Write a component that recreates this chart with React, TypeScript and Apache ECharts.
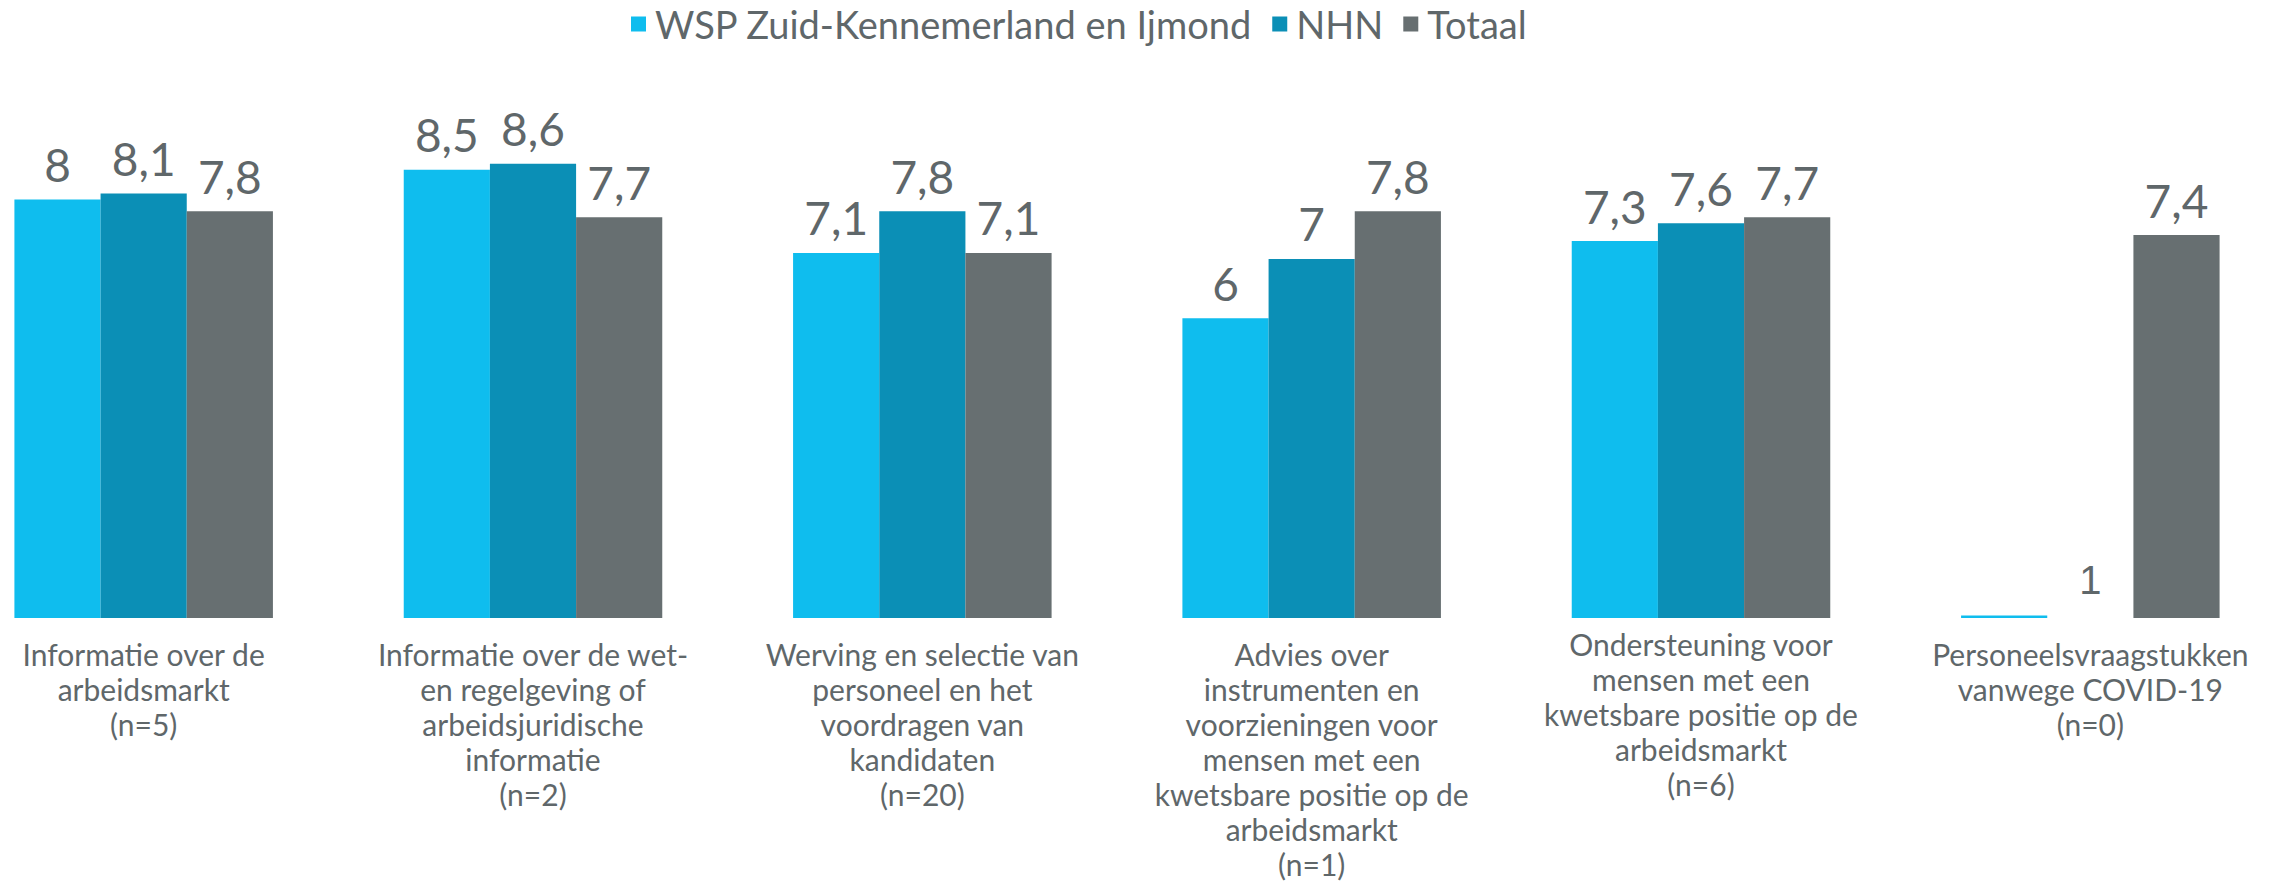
import React, { useEffect, useRef } from "react";
import * as echarts from "echarts";

const categories = [
  "Informatie over de\narbeidsmarkt\n(n=5)",
  "Informatie over de wet-\nen regelgeving of\narbeidsjuridische\ninformatie\n(n=2)",
  "Werving en selectie van\npersoneel en het\nvoordragen van\nkandidaten\n(n=20)",
  "Advies over\ninstrumenten en\nvoorzieningen voor\nmensen met een\nkwetsbare positie op de\narbeidsmarkt\n(n=1)",
  "Ondersteuning voor\nmensen met een\nkwetsbare positie op de\narbeidsmarkt\n(n=6)",
  "Personeelsvraagstukken\nvanwege COVID-19\n(n=0)",
];
const seriesNames = ["WSP Zuid-Kennemerland en Ijmond", "NHN", "Totaal"];
const wsp = [8, 8.5, 7.1, 6, 7.3, 1];
const nhn = [8.1, 8.6, 7.8, 7, 7.6, 1];
const totaal = [7.8, 7.7, 7.1, 7.8, 7.7, 7.4];
const colors = ["#0fbdee", "#0b8fb6", "#676f71"];
const textColor = "#5f676a";
const FONT = "Lato, 'Liberation Sans', sans-serif";

export default function App() {
  const ref = useRef<HTMLDivElement>(null);
  useEffect(() => {
    if (!ref.current) return;
    const chart = echarts.init(ref.current, undefined, { renderer: "svg" });
    const fmt = (p: any) => String(p.value).replace(".", ",");
    const labelBase = {
      show: true,
      position: "top",
      distance: 12,
      color: textColor,
      fontSize: 46,
      fontFamily: FONT,
      formatter: fmt,
    };
    const makeData = (arr: number[], idx: number) =>
      arr.map((v, i) => {
        if (i === 5 && idx === 0) {
          return { value: v, label: { show: false } };
        }
        if (i === 5 && idx === 1) {
          return {
            value: v,
            itemStyle: { color: "rgba(0,0,0,0)" },
            label: { fontSize: 40, fontFamily: "'Liberation Sans', Arial, sans-serif", distance: 16 },
          };
        }
        return v;
      });
    const data = [wsp, nhn, totaal];
    chart.setOption({
      animation: false,
      color: colors,
      legend: {
        top: 0,
        left: 677,
        itemWidth: 15,
        itemHeight: 15,
        itemGap: 20,
        icon: "rect",
        textStyle: { color: textColor, fontSize: 38, fontFamily: FONT, padding: [0, 0, 0, 4] },
        data: seriesNames,
      },
      grid: { left: 0, right: 0, top: 140, bottom: 262, containLabel: false },
      xAxis: {
        type: "category",
        data: categories.map((c, i) => ({
          value: c,
          textStyle: { padding: i === 4 ? [0, 0, 0, 0] : [10, 0, 0, 0] },
        })),
        axisLine: { show: false },
        axisTick: { show: false },
        axisLabel: {
          interval: 0,
          margin: 8,
          color: textColor,
          fontSize: 30,
          lineHeight: 35,
          fontFamily: FONT,
          align: "center",
          verticalAlign: "top",
        },
      },
      yAxis: {
        type: "value",
        min: 0.96,
        max: 9,
        show: false,
        splitLine: { show: false },
      },
      series: seriesNames.map((name, idx) => ({
        name,
        type: "bar",
        barGap: "0%",
        barCategoryGap: "33.6%",
        data: makeData(data[idx], idx),
        label: labelBase,
      })),
    });
    return () => chart.dispose();
  }, []);
  return (
    <div
      style={{ position: "absolute", left: 0, top: 0, width: 2277, height: 881, overflow: "hidden", background: "#fff" }}
    >
      <div
        ref={ref}
        style={{ position: "absolute", left: -51, top: 0, width: 2336, height: 881 }}
      />
    </div>
  );
}
